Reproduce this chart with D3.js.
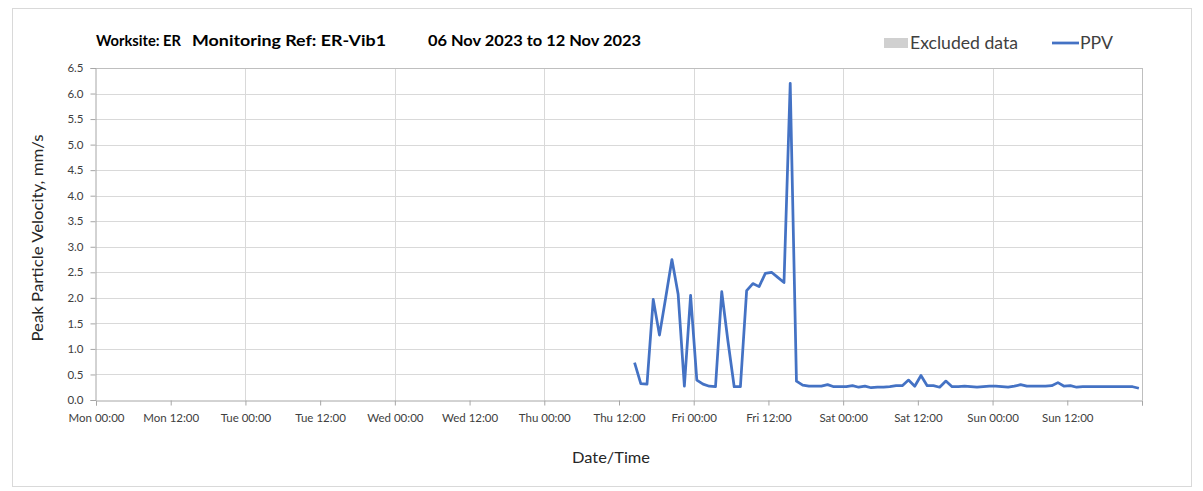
<!DOCTYPE html>
<html><head><meta charset="utf-8">
<script src="https://cdn.jsdelivr.net/npm/d3@7"></script>
<style>
html,body{margin:0;padding:0;background:#fff;}
svg{display:block;font-family:Lato,"Open Sans",sans-serif;}
</style></head>
<body>
<svg id="chart" width="1203" height="491"></svg>
<script>
// ---- data ----
const titleParts = ["Worksite: ER", "Monitoring Ref: ER-Vib1", "06 Nov 2023 to 12 Nov 2023"];
const yTickValues = [0,0.5,1,1.5,2,2.5,3,3.5,4,4.5,5,5.5,6,6.5];
const xTickLabels = ["Mon 00:00","Mon 12:00","Tue 00:00","Tue 12:00","Wed 00:00","Wed 12:00","Thu 00:00","Thu 12:00","Fri 00:00","Fri 12:00","Sat 00:00","Sat 12:00","Sun 00:00","Sun 12:00"];
const legendLabels = ["Excluded data", "PPV"];
const weekStart = new Date(2023, 10, 6, 0, 0);   // Mon 06 Nov 2023 00:00
const weekEnd = new Date(2023, 10, 13, 0, 0);
const firstReading = new Date(2023, 10, 9, 14, 30); // Thu 14:30, hourly readings
const ppvValues = [
  0.73,0.32,0.31,1.97,1.27,2.00,2.75,2.07,0.27,2.05,
  0.39,0.31,0.27,0.26,2.12,1.15,0.26,0.26,2.14,2.28,
  2.22,2.48,2.50,2.40,2.30,6.20,0.37,0.29,0.27,0.27,
  0.27,0.30,0.26,0.26,0.26,0.28,0.25,0.27,0.24,0.25,
  0.25,0.26,0.28,0.28,0.39,0.27,0.48,0.28,0.28,0.25,
  0.37,0.26,0.26,0.27,0.26,0.25,0.26,0.27,0.27,0.26,
  0.25,0.27,0.30,0.27,0.27,0.27,0.27,0.28,0.34,0.27,
  0.28,0.25,0.26,0.26,0.26,0.26,0.26,0.26,0.26,0.26,
  0.26,0.23
];

// ---- layout ----
const svg = d3.select("#chart");
const m = {left:96, right:1142, top:68, bottom:400};
const HOUR = 3600*1000;
const data = ppvValues.map((v,i)=>({t:new Date(firstReading.getTime()+i*HOUR), v}));

const x = d3.scaleTime().domain([weekStart, weekEnd]).range([m.left, m.right]);
const y = d3.scaleLinear().domain([0, 6.5]).range([m.bottom, m.top]);

// outer frame
svg.append("rect").attr("x",12.5).attr("y",8.5).attr("width",1179).attr("height",478)
  .attr("fill","#fff").attr("stroke","#d9d9d9").attr("stroke-width",1);

// title
const titleX = [96, 192, 428];
const titleW = [85, 194, 213];
titleParts.forEach((p,i)=> svg.append("text").attr("x",titleX[i]).attr("y",46)
  .attr("font-size",16).attr("font-weight","bold").attr("fill","#000")
  .attr("textLength",titleW[i]).attr("lengthAdjust","spacingAndGlyphs").text(p));

// gridlines horizontal
svg.append("g").selectAll("line").data(yTickValues.filter(d=>d>0))
  .join("line")
  .attr("x1",m.left).attr("x2",m.right)
  .attr("y1",d=>Math.round(y(d))+0.5).attr("y2",d=>Math.round(y(d))+0.5)
  .attr("stroke","#d9d9d9").attr("stroke-width",1);

// vertical gridlines at day boundaries
const days = d3.timeDay.range(d3.timeDay.offset(weekStart,1), d3.timeDay.offset(weekEnd,1));
svg.append("g").selectAll("line").data(days)
  .join("line")
  .attr("x1",d=>Math.round(x(d))+0.5).attr("x2",d=>Math.round(x(d))+0.5)
  .attr("y1",m.top).attr("y2",m.bottom)
  .attr("stroke","#d9d9d9").attr("stroke-width",1);

// plot border top/right
svg.append("line").attr("x1",m.left).attr("x2",m.right).attr("y1",m.top+0.5).attr("y2",m.top+0.5)
  .attr("stroke","#bfbfbf");
svg.append("line").attr("x1",m.right+0.5).attr("x2",m.right+0.5).attr("y1",m.top).attr("y2",m.bottom)
  .attr("stroke","#bfbfbf");

// y axis
const yAxis = d3.axisLeft(y).tickValues(yTickValues).tickFormat(d3.format(".1f")).tickSize(5).tickPadding(7);
const gy = svg.append("g").attr("transform",`translate(${m.left-0.5},0)`).call(yAxis);
gy.select(".domain").attr("stroke","#a6a6a6");
gy.selectAll(".tick line").attr("stroke","#a6a6a6");
gy.selectAll(".tick text").attr("font-size",11.5).attr("fill","#404040").attr("font-family","Lato, 'Open Sans', sans-serif");

// x axis
const xTicks = d3.timeHour.every(12).range(weekStart, d3.timeHour.offset(weekEnd,1));
const xAxis = d3.axisBottom(x).tickValues(xTicks)
  .tickFormat((d,i)=> xTickLabels[i] || "").tickSize(5).tickPadding(8);
const gx = svg.append("g").attr("transform",`translate(0,${m.bottom+0.5})`).call(xAxis);
gx.select(".domain").attr("stroke","#a6a6a6");
gx.selectAll(".tick line").attr("stroke","#a6a6a6");
gx.selectAll(".tick text").attr("font-size",11.5).attr("fill","#404040").attr("font-family","Lato, 'Open Sans', sans-serif");

// line
const line = d3.line().x(d=>x(d.t)).y(d=>y(d.v));
svg.append("path").datum(data).attr("d",line)
  .attr("fill","none").attr("stroke","#4472C4").attr("stroke-width",2.75).attr("stroke-linejoin","round");

// axis titles
svg.append("text").attr("x",611).attr("y",463).attr("text-anchor","middle")
  .attr("font-size",16).attr("fill","#262626")
  .attr("textLength",78).attr("lengthAdjust","spacingAndGlyphs").text("Date/Time");
svg.append("text").attr("transform","translate(43,238) rotate(-90)").attr("text-anchor","middle")
  .attr("font-size",16).attr("fill","#262626")
  .attr("textLength",207).attr("lengthAdjust","spacingAndGlyphs").text("Peak Particle Velocity, mm/s");

// legend
const lg = svg.append("g");
lg.append("rect").attr("x",884).attr("y",38).attr("width",24).attr("height",10).attr("fill","#d0d0d0");
lg.append("text").attr("x",910).attr("y",49).attr("font-size",16.5).attr("fill","#404040")
  .attr("textLength",108).attr("lengthAdjust","spacingAndGlyphs").text(legendLabels[0]);
lg.append("line").attr("x1",1052).attr("x2",1079).attr("y1",43).attr("y2",43).attr("stroke","#4472C4").attr("stroke-width",2.75);
lg.append("text").attr("x",1080).attr("y",49).attr("font-size",16.5).attr("fill","#404040")
  .attr("textLength",33).attr("lengthAdjust","spacingAndGlyphs").text(legendLabels[1]);
</script>
</body></html>
